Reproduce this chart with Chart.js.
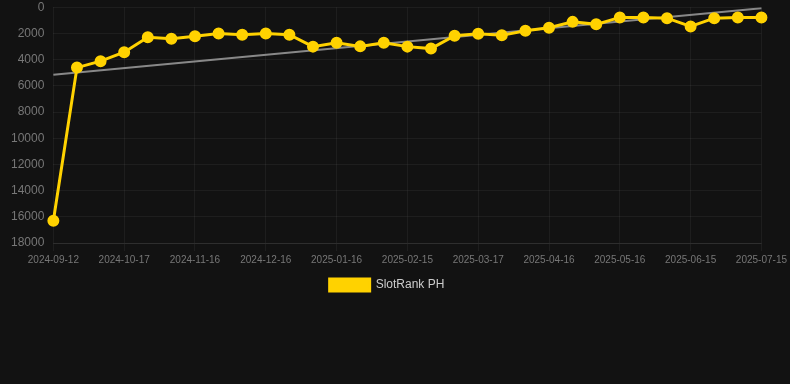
<!DOCTYPE html>
<html>
<head>
<meta charset="utf-8">
<script src="https://cdn.jsdelivr.net/npm/chart.js@4.4.1/dist/chart.umd.min.js"></script>
<style>
  html, body { margin: 0; padding: 0; background: #121212; overflow: hidden; }
  #wrap { width: 790px; height: 310px; position: relative; top: -9px; }
</style>
</head>
<body>
<div id="wrap"><canvas id="rankChart"></canvas></div>
<script>
// dates (one every ~10 days, every 3rd one is labelled)
const dates = [
    "2024-09-12", "2024-09-24", "2024-10-06", "2024-10-17", "2024-10-27", "2024-11-06",
    "2024-11-16", "2024-11-26", "2024-12-06", "2024-12-16", "2024-12-26", "2025-01-06",
    "2025-01-16", "2025-01-26", "2025-02-05", "2025-02-15", "2025-02-25", "2025-03-07",
    "2025-03-17", "2025-03-27", "2025-04-06", "2025-04-16", "2025-04-26", "2025-05-06",
    "2025-05-16", "2025-05-26", "2025-06-05", "2025-06-15", "2025-06-25", "2025-07-05",
    "2025-07-15"
];

// rank per date
const rankPH = [
    16300, 4610, 4120, 3440, 2300, 2410, 2220, 2000, 2100, 2000,
    2100, 3010, 2710, 2990, 2710, 3010, 3160, 2180, 2030, 2150,
    1800, 1570, 1120, 1310, 780, 780, 840, 1470, 840, 780,
    780
];

// trend line end points
const trendStart = 5150;
const trendEnd = 80;

const yTicks = [0, 2000, 4000, 6000, 8000, 10000, 12000, 14000, 16000, 18000];

let trendData = dates.map(() => null);
trendData[0] = trendStart;
trendData[dates.length - 1] = trendEnd;

let ctx = document.getElementById('rankChart').getContext('2d');

let rankChart = new Chart(ctx, {
    type: 'line',
    data: {
        labels: dates,
        datasets: [{
            label: "SlotRank PH",
            data: rankPH,
            borderColor: '#FFD200',
            backgroundColor: '#FFD200',
            borderWidth: 3,
            pointRadius: 4.5,
            pointHoverRadius: 6,
            tension: 0,
            order: 1
        }, {
            label: "trend",
            data: trendData,
            borderColor: 'rgba(150,150,150,0.9)',
            borderWidth: 2,
            pointRadius: 0,
            spanGaps: true,
            order: 2
        }]
    },
    options: {
        responsive: true,
        maintainAspectRatio: false,
        animation: false,
        layout: { padding: { top: 0, right: 18, left: 2 } },
        plugins: {
            legend: {
                position: 'bottom',
                labels: {
                    color: '#cccccc',
                    font: { family: 'Liberation Sans, Arial', size: 12 },
                    boxWidth: 40,
                    boxHeight: 12,
                    filter: item => item.text !== 'trend'
                }
            },
            tooltip: { enabled: false }
        },
        scales: {
            x: {
                grid: { color: 'rgba(255,255,255,0.05)', tickColor: 'rgba(255,255,255,0.05)' },
                border: { color: 'rgba(255,255,255,0.08)' },
                ticks: {
                    color: '#777777',
                    font: { family: 'Liberation Sans, Arial', size: 10 },
                    maxRotation: 0,
                    autoSkip: false,
                    callback: function(val, idx) {
                        return idx % 3 === 0 ? this.getLabelForValue(val) : null;
                    }
                }
            },
            y: {
                reverse: true,
                min: 0,
                max: 18000,
                afterBuildTicks: axis => { axis.ticks = yTicks.map(v => ({ value: v })); },
                grid: { color: 'rgba(255,255,255,0.05)', drawTicks: false },
                border: { display: false },
                ticks: {
                    color: '#777777',
                    font: { family: 'Liberation Sans, Arial', size: 12 },
                    padding: 9,
                    callback: v => String(v)
                }
            }
        }
    }
});
</script>
</body>
</html>
